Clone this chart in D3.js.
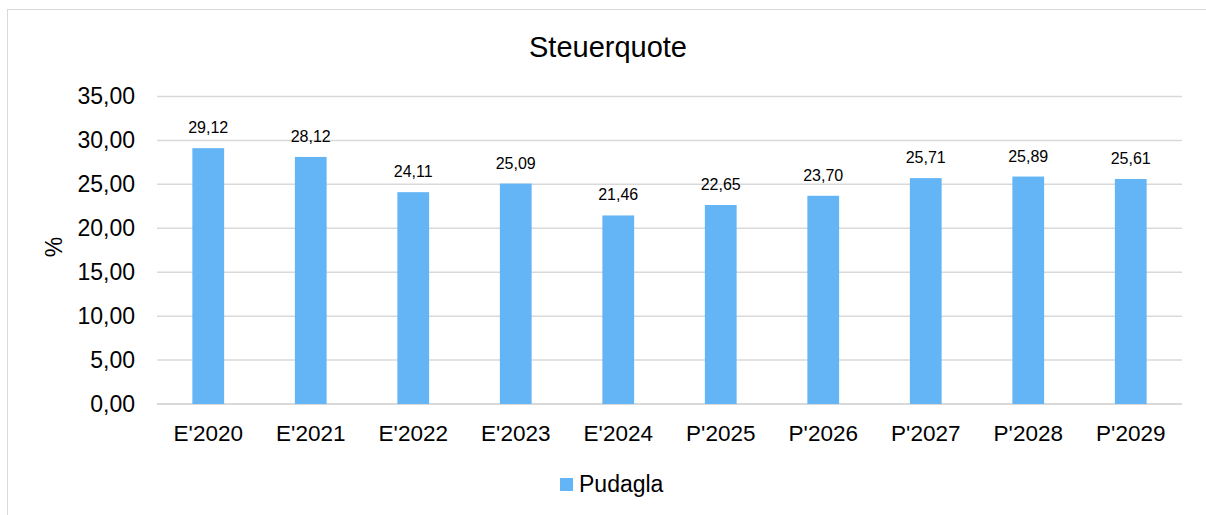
<!DOCTYPE html>
<html>
<head>
<meta charset="utf-8">
<script src="https://d3js.org/d3.v7.min.js"></script>
<style>
	body { margin: 0; background: #fff; }
	svg { font-family: "Liberation Sans", Arial, sans-serif; }
</style>
</head>
<body>
<div id="chart"></div>
<script>
// chart data
var categories = ["E'2020","E'2021","E'2022","E'2023","E'2024","P'2025","P'2026","P'2027","P'2028","P'2029"];
var values = [29.12, 28.12, 24.11, 25.09, 21.46, 22.65, 23.70, 25.71, 25.89, 25.61];
var yTicks = [0, 5, 10, 15, 20, 25, 30, 35];
var seriesName = "Pudagla";
var chartTitle = "Steuerquote";
var yTitle = "%";

var width = 1206, height = 515;
var margin = {left: 157, right: 24, top: 96.5, bottom: 111};
var barColor = "#64b5f6";

var fmt = function(v){ return d3.format(".2f")(v).replace(".", ","); };

var svg = d3.select("#chart").append("svg")
	.attr("width", width).attr("height", height);

// outer frame (right and bottom edges lie outside the picture)
svg.append("rect")
	.attr("x", 7.5).attr("y", 9.5)
	.attr("width", 1230).attr("height", 540)
	.attr("fill", "none").attr("stroke", "#d9d9d9");

var x = d3.scaleBand()
	.domain(categories)
	.range([margin.left, width - margin.right])
	.paddingInner(0.69).paddingOuter(0.345);

var y = d3.scaleLinear()
	.domain([0, 35])
	.range([height - margin.bottom, margin.top]);

// gridlines
svg.append("g")
	.selectAll("line")
	.data(yTicks)
	.enter().append("line")
	.attr("x1", margin.left).attr("x2", width - margin.right)
	.attr("y1", function(d){ return y(d); })
	.attr("y2", function(d){ return y(d); })
	.attr("stroke", "#d9d9d9")
	.attr("stroke-width", function(d){ return d === 0 ? 2 : 1.5; });

// y axis labels
var yAxis = d3.axisLeft(y).tickValues(yTicks).tickFormat(fmt).tickSize(0).tickPadding(22);
var yg = svg.append("g")
	.attr("transform", "translate(" + margin.left + ",0)")
	.call(yAxis);
yg.select(".domain").remove();
yg.selectAll("text").attr("font-size", 23).attr("fill", "#000").attr("font-family", "Liberation Sans, Arial, sans-serif");

// x axis labels
var xAxis = d3.axisBottom(x).tickSize(0).tickPadding(18);
var xg = svg.append("g")
	.attr("transform", "translate(0," + y(0) + ")")
	.call(xAxis);
xg.select(".domain").remove();
xg.selectAll("text")
	.attr("dy", null).attr("y", 36.5)
	.attr("font-size", 22.5).attr("fill", "#000").attr("font-family", "Liberation Sans, Arial, sans-serif");

// bars
svg.append("g")
	.selectAll("rect")
	.data(values)
	.enter().append("rect")
	.attr("x", function(d, i){ return x(categories[i]); })
	.attr("y", function(d){ return y(d); })
	.attr("width", x.bandwidth())
	.attr("height", function(d){ return y(0) - y(d); })
	.attr("fill", barColor);

// value labels
svg.append("g")
	.selectAll("text")
	.data(values)
	.enter().append("text")
	.attr("x", function(d, i){ return x(categories[i]) + x.bandwidth() / 2; })
	.attr("y", function(d){ return y(d) - 15; })
	.attr("text-anchor", "middle")
	.attr("font-size", 16)
	.attr("fill", "#000")
	.text(fmt);

// title
svg.append("text")
	.attr("x", 608).attr("y", 57)
	.attr("text-anchor", "middle")
	.attr("font-size", 29)
	.attr("fill", "#000")
	.text(chartTitle);

// y title
svg.append("text")
	.attr("transform", "translate(62,247) rotate(-90)")
	.attr("text-anchor", "middle")
	.attr("font-size", 23)
	.attr("fill", "#000")
	.text(yTitle);

// legend
var lg = svg.append("g").attr("transform", "translate(560,478)");
lg.append("rect").attr("width", 13).attr("height", 13).attr("fill", barColor);
lg.append("text").attr("x", 19).attr("y", 14).attr("font-size", 23).attr("fill", "#000").text(seriesName);
</script>
</body>
</html>
